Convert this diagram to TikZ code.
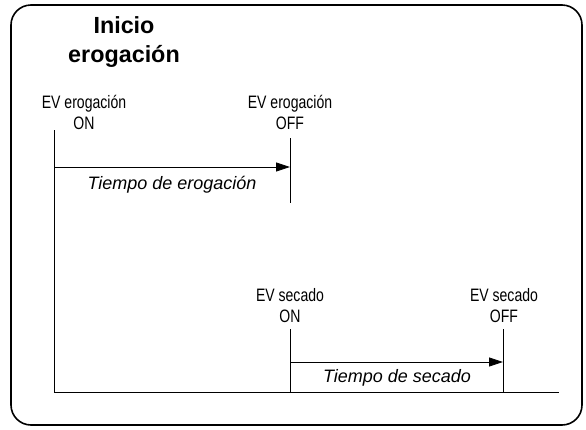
\documentclass[tikz,border=0pt]{standalone}
\usepackage{fontspec}
\setmainfont{Liberation Sans}
\newfontfamily\narrowfont[FakeStretch=0.78]{Liberation Sans}
\usetikzlibrary{arrows.meta, positioning}

\begin{document}
\begin{tikzpicture}[
    x=0.75pt, y=-0.75pt,
    evlabel/.style={align=center, inner sep=0pt, font=\narrowfont\fontsize{13.5}{15.75}\selectfont},
    timelabel/.style={inner sep=0pt, font=\itshape\fontsize{13.5}{16}\selectfont},
    titlelabel/.style={align=center, inner sep=0pt, font=\bfseries\fontsize{17.5}{21.75}\selectfont},
    tline/.style={line width=0.6pt},
    arrow/.style={tline, -{Triangle[length=10.5pt, width=6.75pt]}}
]
\useasboundingbox (0,0) rectangle (586,429);
\draw[line width=1.2pt, rounded corners=15pt] (11,5) rectangle (582,425);

% Title
\node[titlelabel] (title) at (124,42) {Inicio\\erogación};

% Event labels
\node[evlabel] (erogon) at (84,112) {EV erogación\\ON};
\node[evlabel] (erogoff) at (290,112) {EV erogación\\OFF};
\node[evlabel] (secon) at (290,306) {EV secado\\ON};
\node[evlabel] (secoff) at (504,306) {EV secado\\OFF};

% Time axis
\coordinate (start) at (54,130);
\coordinate (base) at (54,392);
\coordinate (baseend) at (559,392);
\draw[tline] (start) -- (base) -- (baseend);

% Erogacion interval
\coordinate (erogtop) at (290,138);
\coordinate (erogbot) at (290,203);
\coordinate (erogA) at (54,167);
\coordinate (erogB) at (290,167);
\draw[tline] (erogtop) -- (erogbot);
\draw[arrow] (erogA) -- (erogB);
\node[timelabel] (erogtime) at (172,185) {Tiempo de erogación};

% Secado interval
\coordinate (sectop) at (290,329);
\coordinate (secbot) at (290,392);
\coordinate (secofftop) at (503,329);
\coordinate (secoffbot) at (503,392);
\coordinate (secA) at (290,362);
\coordinate (secB) at (503,362);
\draw[tline] (sectop) -- (secbot);
\draw[tline] (secofftop) -- (secoffbot);
\draw[arrow] (secA) -- (secB);
\node[timelabel] (sectime) at (397,378) {Tiempo de secado};
\end{tikzpicture}
\end{document}
